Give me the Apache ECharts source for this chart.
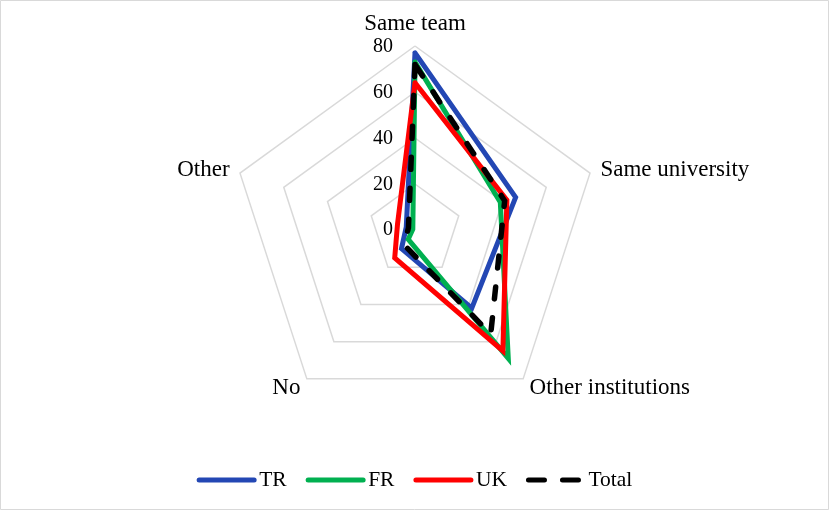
<!DOCTYPE html>
<html><head><meta charset="utf-8">
<script src="https://cdn.jsdelivr.net/npm/echarts@6/dist/echarts.min.js"></script>
<style>html,body{margin:0;padding:0;background:#fff}#c{width:829px;height:510px}</style>
</head><body><div id="c"></div>
<script>
// categories in clockwise order starting from the top
const categories = ['Same team', 'Same university', 'Other institutions', 'No', 'Other'];
const TR    = [77, 46, 42, 10, 4];
const FR    = [73, 39, 69, 5, 1];
const UK    = [64, 42, 65, 15, 8];
const Total = [72, 41, 56, 8, 3];
const tickLabels = [0, 20, 40, 60, 80];
const seriesNames = ['TR', 'FR', 'UK', 'Total'];
const seriesColors = ['#2347B4', '#00B050', '#FF0000', '#000000'];

// ECharts radar goes counter-clockwise; map to clockwise order
const order = [0, 4, 3, 2, 1];
const reorder = arr => order.map(i => arr[i]);
const font = 'Liberation Serif';
const values = [TR, FR, UK, Total];
const LW = 5;
const dash = [12, 19];

const chart = echarts.init(document.getElementById('c'), null, {renderer: 'canvas'});
const radarSeries = {
  type: 'radar',
  symbol: 'none',
  z: 3,
  data: values.map((v, i) => ({
    name: seriesNames[i],
    value: reorder(v),
    lineStyle: {
      color: seriesColors[i], width: i === 3 ? 5.5 : LW, cap: 'round', join: 'miter',
      type: i === 3 ? dash : 'solid'
    },
    itemStyle: {color: seriesColors[i]}
  }))
};
const legendSeries = seriesNames.map((n, i) => ({
  type: 'line', name: n, data: [], symbol: 'none', xAxisIndex: 0, yAxisIndex: 0,
  itemStyle: {color: seriesColors[i]},
  lineStyle: {color: seriesColors[i], width: LW, cap: 'round', type: i === 3 ? [16, 18] : 'solid'}
}));

chart.setOption({
  animation: false,
  backgroundColor: '#fff',
  textStyle: {fontFamily: font},
  graphic: [{type: 'rect', shape: {x: 0.5, y: 0.5, width: 828, height: 509},
    style: {fill: null, stroke: '#d9d9d9', lineWidth: 1}, silent: true}],
  legend: {
    data: seriesNames.map((n, i) => ({
      name: n,
      itemStyle: {opacity: 0, color: 'transparent', borderWidth: 0},
      lineStyle: {width: LW, color: seriesColors[i], cap: 'round', type: i === 3 ? [16, 18] : 'solid'}
    })),
    bottom: 14, left: 'center',
    itemWidth: 55, itemHeight: 12, itemGap: 19,
    textStyle: {fontFamily: font, fontSize: 21.5, color: '#000'}
  },
  grid: {left: 415, top: 47, width: 10, height: 183},
  xAxis: {type: 'value', show: false},
  yAxis: {
    type: 'value', min: 0, max: 80, interval: 20,
    axisLine: {show: false}, axisTick: {show: false}, splitLine: {show: false},
    axisLabel: {margin: 22, fontFamily: font, fontSize: 20, color: '#000',
      formatter: v => tickLabels.includes(v) ? String(v) : ''}
  },
  radar: {
    center: [415, 230],
    radius: 184,
    startAngle: 90,
    shape: 'polygon',
    splitNumber: 4,
    indicator: reorder(categories).map(n => ({name: n, min: 0, max: 80})),
    axisName: {color: '#000', fontFamily: font, fontSize: 23},
    nameGap: 11,
    axisLine: {show: false},
    axisTick: {show: false},
    axisLabel: {show: false},
    splitArea: {show: false},
    splitLine: {lineStyle: {color: '#d9d9d9', width: 1.5}}
  },
  series: legendSeries.concat([radarSeries])
});
</script></body></html>
